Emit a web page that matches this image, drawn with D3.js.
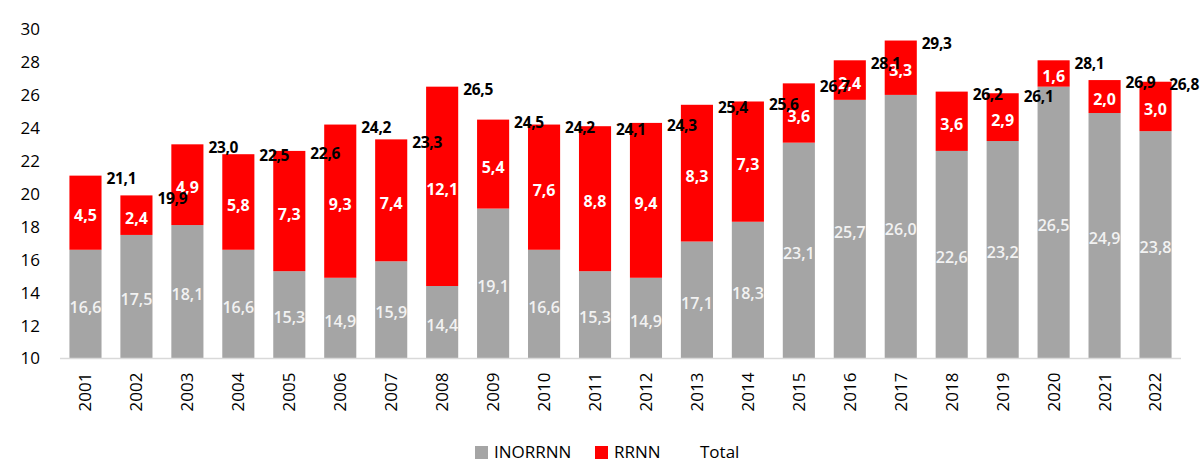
<!DOCTYPE html>
<html lang="es">
<head>
<meta charset="UTF-8">
<script src="https://cdn.jsdelivr.net/npm/d3@7"></script>
<style>
  * { margin: 0; padding: 0; }
  body { background: #fff; font-family: "Open Sans", Arial, sans-serif; }
  svg { display: block; }
</style>
</head>
<body>
<div id="chart"></div>
<script>
// data
var years = ["2001","2002","2003","2004","2005","2006","2007","2008","2009","2010","2011",
             "2012","2013","2014","2015","2016","2017","2018","2019","2020","2021","2022"];
var inorrnn = [16.6,17.5,18.1,16.6,15.3,14.9,15.9,14.4,19.1,16.6,15.3,14.9,17.1,18.3,23.1,25.7,26.0,22.6,23.2,26.5,24.9,23.8];
var rrnn    = [4.5,2.4,4.9,5.8,7.3,9.3,7.4,12.1,5.4,7.6,8.8,9.4,8.3,7.3,3.6,2.4,3.3,3.6,2.9,1.6,2.0,3.0];
var total   = [21.1,19.9,23.0,22.5,22.6,24.2,23.3,26.5,24.5,24.2,24.1,24.3,25.4,25.6,26.7,28.1,29.3,26.2,26.1,28.1,26.9,26.8];
var yTicks  = [10,12,14,16,18,20,22,24,26,28,30];

var w = 1201, h = 464;
var plotLeft = 60, plotRight = 1181, plotTop = 29, plotBottom = 358.5;

var fmt = function(v) { return d3.format(".1f")(v).replace(".", ","); };

var rows = years.map(function(y, i) {
    return { year: y, INORRNN: inorrnn[i], RRNN: rrnn[i], total: total[i] };
});
var series = d3.stack().keys(["INORRNN", "RRNN"])(rows);
var colors = { INORRNN: "#a5a5a5", RRNN: "#ff0000" };

var x = d3.scaleBand().domain(years).range([plotLeft, plotRight]).paddingInner(0.37).paddingOuter(0.185);
var y = d3.scaleLinear().domain([10, 30]).range([plotBottom, plotTop]);
var cx = function(yr) { return x(yr) + x.bandwidth() / 2; };

var svg = d3.select("#chart").append("svg").attr("width", w).attr("height", h);

// bars
svg.append("g").selectAll("g")
    .data(series).enter().append("g")
    .attr("fill", function(d) { return colors[d.key]; })
    .selectAll("rect")
    .data(function(d) { return d; }).enter().append("rect")
    .attr("x", function(d) { return x(d.data.year); })
    .attr("width", x.bandwidth())
    .attr("y", function(d) { return y(d[1]); })
    .attr("height", function(d) { return y(Math.max(d[0], 10)) - y(d[1]); });

// axis line
svg.append("line")
    .attr("x1", plotLeft).attr("x2", plotRight)
    .attr("y1", plotBottom).attr("y2", plotBottom)
    .attr("stroke", "#d9d9d9").attr("stroke-width", 1.5);

// y axis labels
svg.append("g").selectAll("text")
    .data(yTicks).enter().append("text")
    .attr("x", 40).attr("y", function(d) { return y(d); })
    .attr("dy", "0.35em").attr("text-anchor", "end")
    .attr("font-size", "17px").attr("fill", "#000")
    .text(function(d) { return d; });

// x axis labels (rotated)
svg.append("g").selectAll("text")
    .data(years).enter().append("text")
    .attr("transform", function(d) { return "translate(" + cx(d) + "," + (plotBottom + 14) + ") rotate(-90)"; })
    .attr("dy", "0.35em").attr("text-anchor", "end")
    .attr("font-size", "17px").attr("fill", "#000")
    .text(function(d) { return d; });

// segment labels
svg.append("g").selectAll("text")
    .data(series[0]).enter().append("text")
    .attr("x", function(d) { return cx(d.data.year); })
    .attr("y", function(d) { return (y(10) + y(d[1])) / 2 + 3; })
    .attr("dy", "0.35em").attr("text-anchor", "middle")
    .attr("font-size", "16px").attr("font-weight", 600).attr("fill", "#f2f2f2")
    .text(function(d) { return fmt(d.data.INORRNN); });

svg.append("g").selectAll("text")
    .data(series[1]).enter().append("text")
    .attr("x", function(d) { return cx(d.data.year); })
    .attr("y", function(d) { return (y(d[0]) + y(d[1])) / 2 + 3; })
    .attr("dy", "0.35em").attr("text-anchor", "middle")
    .attr("font-size", "16px").attr("font-weight", "bold").attr("fill", "#fff")
    .text(function(d) { return fmt(d.data.RRNN); });

// total labels (kept inside the picture on the right)
svg.append("g").selectAll("text")
    .data(rows).enter().append("text")
    .attr("y", function(d) { return y(d.total) + 3; })
    .attr("dy", "0.35em").attr("text-anchor", "start")
    .attr("font-size", "15.5px").attr("font-weight", "bold").attr("fill", "#000")
    .attr("letter-spacing", "-0.3px")
    .text(function(d) { return fmt(d.total); })
    .attr("x", function(d) {
        var len = this.getComputedTextLength();
        return Math.min(cx(d.year) + 21, w - 2 - len);
    });

// legend
var legend = [
    { name: "INORRNN", color: colors.INORRNN, x: 475 },
    { name: "RRNN", color: colors.RRNN, x: 595 },
    { name: "Total", color: null, x: 681 }
];
var lg = svg.append("g").selectAll("g").data(legend).enter().append("g")
    .attr("transform", function(d) { return "translate(" + d.x + ",446)"; });
lg.filter(function(d) { return d.color; }).append("rect")
    .attr("width", 13).attr("height", 13)
    .attr("fill", function(d) { return d.color; });
lg.append("text")
    .attr("x", 19).attr("y", 6.5).attr("dy", "0.35em")
    .attr("font-size", "17px").attr("fill", "#000")
    .text(function(d) { return d.name; });
</script>
</body>
</html>
